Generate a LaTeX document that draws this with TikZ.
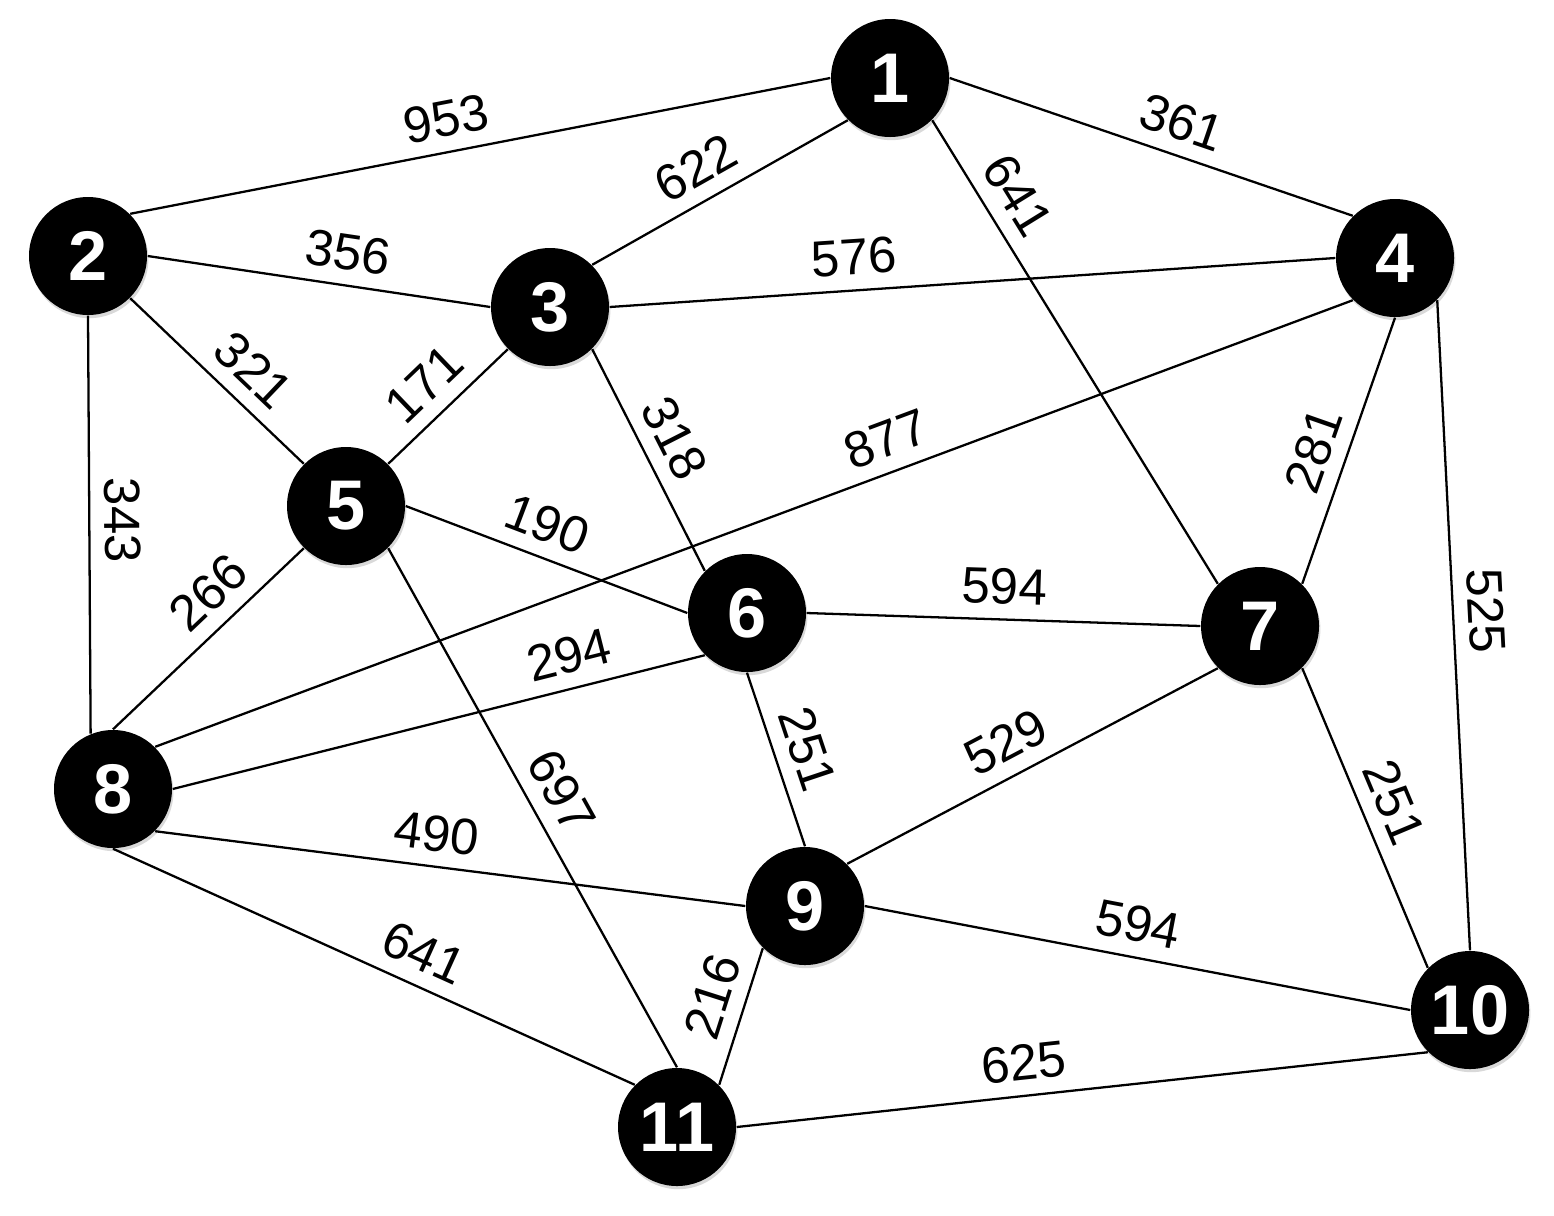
\documentclass[tikz,border=0pt]{standalone}
\usepackage{fontspec}
\setmainfont{Liberation Sans}
\usetikzlibrary{shadows}

\begin{document}
\begin{tikzpicture}[
  font=\fontsize{14.5}{17}\selectfont,
  vertex/.style={circle,fill=black,minimum size=1.18cm,inner sep=0pt,
    text=white,font=\fontsize{20}{24}\selectfont\bfseries,
    drop shadow={opacity=0.3,shadow xshift=0.4pt,shadow yshift=-0.9pt}},
  link/.style={line width=0.65pt,black},
  wt/.style={above,sloped,inner sep=4pt}
]
\useasboundingbox (0,0) rectangle (15.54,-12.15);

% vertices
\node[vertex] (v1) at (8.90,-0.78) {1};
\node[vertex] (v2) at (0.88,-2.56) {2};
\node[vertex] (v3) at (5.50,-3.07) {3};
\node[vertex] (v4) at (13.95,-2.58) {4};
\node[vertex] (v5) at (3.46,-5.06) {5};
\node[vertex] (v6) at (7.47,-6.13) {6};
\node[vertex] (v7) at (12.60,-6.26) {7};
\node[vertex] (v8) at (1.13,-7.89) {8};
\node[vertex] (v9) at (8.05,-9.06) {9};
\node[vertex] (v10) at (14.70,-10.10) {10};
\node[vertex] (v11) at (6.77,-11.27) {11};

% weighted edges
\draw[link] (v2.north east) -- node[wt,pos=0.46] {953} (v1.west);
\draw[link] (v2.east) -- node[wt,pos=0.57] {356} (v3.west);
\draw[link] (v3.north east) -- node[wt,pos=0.47] {622} (v1.south west);
\draw[link] (v1.east) -- node[wt,pos=0.55] {361} (v4.north west);
\draw[link] (v1.south east) -- node[wt,pos=0.2] {641} (v7.north west);
\draw[link] (v3.east) -- node[wt,pos=0.34] {576} (v4.west);
\draw[link] (v2.south east) -- node[wt,pos=0.58] {321} (v5.north west);
\draw[link] (v2.south) -- node[wt,pos=0.49] {343} (v8.112);
\draw[link] (v5.north east) -- node[wt,pos=0.49] {171} (v3.south west);
\draw[link] (v3.south east) -- node[wt,pos=0.47] {318} (v6.north west);
\draw[link] (v8.north east) -- node[wt,pos=0.62] {877} (v4.south west);
\draw[link] (v7.north east) -- node[wt,pos=0.46] {281} (v4.south);
\draw[link] (v4.south east) -- node[wt,pos=0.48] {525} (v10.north);
\draw[link] (v5.east) -- node[wt,pos=0.46] {190} (v6.west);
\draw[link] (v8.north) -- node[wt,pos=0.62] {266} (v5.south west);
\draw[link] (v5.south east) -- node[wt,pos=0.5] {697} (v11.north);
\draw[link] (v6.east) -- node[wt,pos=0.5] {594} (v7.west);
\draw[link] (v8.east) -- node[wt,pos=0.76] {294} (v6.south west);
\draw[link] (v6.south) -- node[wt,pos=0.5] {251} (v9.north);
\draw[link] (v9.north east) -- node[wt,pos=0.47] {529} (v7.south west);
\draw[link] (v7.south east) -- node[wt,pos=0.49] {251} (v10.north west);
\draw[link] (v8.south east) -- node[wt,pos=0.47] {490} (v9.west);
\draw[link] (v8.south) -- node[wt,pos=0.57] {641} (v11.north west);
\draw[link] (v9.east) -- node[wt,pos=0.49] {594} (v10.west);
\draw[link] (v11.north east) -- node[wt,pos=0.57] {216} (v9.south west);
\draw[link] (v11.east) -- node[wt,pos=0.42] {625} (v10.south west);

\end{tikzpicture}
\end{document}
